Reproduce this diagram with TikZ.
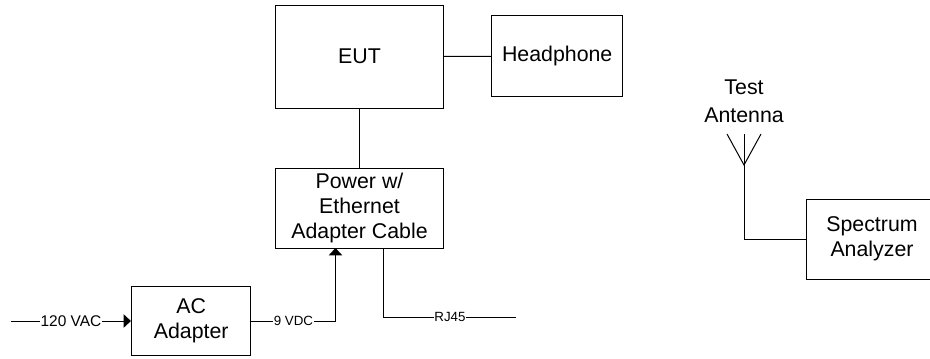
\documentclass[tikz,border=0pt]{standalone}
\usepackage{fontspec}
\setmainfont{Liberation Sans}
\usetikzlibrary{arrows.meta}
\tikzset{
  blockbox/.style={draw, line width=.75pt, align=center, inner sep=0, font=\fontsize{16}{19}\selectfont},
  wirelabel/.style={fill=white, inner sep=.5, font=\fontsize{10}{12}\selectfont},
  wire/.style={line width=.75pt},
  wirein/.style={wire, -{Triangle[width=10pt,length=5.5pt]}}
}
\begin{document}
\begin{tikzpicture}[x=.75pt, y=-.75pt]
\useasboundingbox (0,0) rectangle (930,358);
\node[blockbox, minimum width=126pt, minimum height=77.25pt] (eut) at (359.5,56.5) {EUT};
\node[blockbox, minimum width=98.6pt, minimum height=60.4pt] (headphone) at (557.2,56.2) {Headphone};
\node[blockbox, minimum width=126pt, minimum height=60pt] (power) at (359.5,208) {Power w/\\Ethernet\\Adapter Cable};
\node[blockbox, minimum width=89.6pt, minimum height=51.4pt] (adapter) at (191.2,321) {AC\\Adapter};
\node[blockbox, minimum width=99pt, minimum height=60pt] (analyzer) at (872,239) {Spectrum\\Analyzer};
\node[align=center, inner sep=0, font=\fontsize{16}{21}\selectfont] (antennalabel) at (744,101) {Test\\Antenna};
\coordinate (linein) at (11,321);
\coordinate (powerin) at (335.5,248);
\coordinate (rjtop) at (383.5,248);
\coordinate (rjend) at (516,317);
\coordinate (antfoot) at (744,165);
\coordinate (anttop) at (744,134);
\coordinate (antleft) at (727,134);
\coordinate (antright) at (761,134);
\draw[wire] (eut) -- (headphone);
\draw[wire] (eut) -- (power);
\draw[wirein] (linein) -- (adapter);
\node[wirelabel, font=\fontsize{11.6}{14}\selectfont] (vaclabel) at (71,321) {120 VAC};
\draw[wirein] (adapter.east) -| (powerin);
\node[wirelabel] (vdclabel) at (293.5,321) {9 VDC};
\draw[wire] (rjtop) |- (rjend);
\node[wirelabel] (rjlabel) at (450,317) {RJ45};
\draw[wire] (anttop) -- (antfoot) |- (analyzer.west);
\draw[wire] (antleft) -- (antfoot) -- (antright);
\end{tikzpicture}
\end{document}
